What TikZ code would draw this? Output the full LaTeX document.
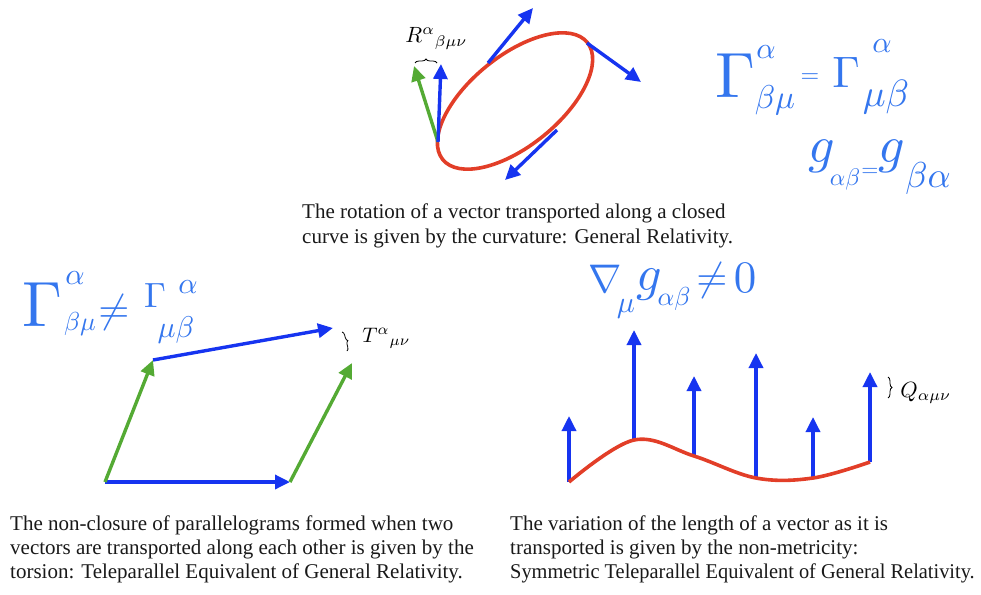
\documentclass[tikz,border=0pt]{standalone}
\usepackage{fontspec}
\setmainfont{Liberation Serif}
\usetikzlibrary{arrows.meta,decorations.pathreplacing}
\definecolor{vblue}{RGB}{22,52,240}
\definecolor{vgreen}{RGB}{84,170,52}
\definecolor{vred}{RGB}{226,62,40}
\definecolor{hand}{RGB}{52,118,238}
\definecolor{captext}{RGB}{25,25,25}
\tikzset{
  vec/.style={line width=3.4pt,-{Triangle[length=15pt,width=14pt]}},
  bvec/.style={vec,draw=vblue,fill=vblue},
  gvec/.style={vec,draw=vgreen,fill=vgreen},
  hw/.style={text=hand,inner sep=0pt,outer sep=0pt},
  capline/.style={anchor=base west,inner sep=0pt,text=captext,font=\fontsize{21}{24}\selectfont},
  mlabel/.style={anchor=base west,inner sep=0pt,scale=2.1},
  brc/.style={decorate,decoration={brace,amplitude=4pt},line width=0.8pt},
  redline/.style={draw=vred,line width=3.6pt}
}
\begin{document}
\begin{tikzpicture}[x=1pt,y=-1pt]
\path[use as bounding box] (0,0) rectangle (981,594);

% ---------- curvature ----------
\draw[redline,rotate around={39:(515,101)}] (515,101) ellipse [x radius=93,y radius=45];
\coordinate (eL) at (438,142);
\coordinate (gT) at (414,66);
\coordinate (bT) at (441,64);
\coordinate (eTop) at (488,63);
\coordinate (eTopT) at (533,8);
\coordinate (eR) at (587,43);
\coordinate (eRT) at (641,82);
\coordinate (eB) at (557,130);
\coordinate (eBT) at (505,180);
\draw[gvec] (eL) -- (gT);
\draw[bvec] (eL) -- (bT);
\draw[bvec] (eTop) -- (eTopT);
\draw[bvec] (eR) -- (eRT);
\draw[bvec] (eB) -- (eBT);
\coordinate (rb1) at (415,63);
\coordinate (rb2) at (437,63);
\draw[brc] (rb1) -- (rb2);
\node[mlabel,scale=1.05] (R) at (405,43) {$R^{\alpha}{}_{\beta\mu\nu}$};

\node[capline] (c1a) at (302,218) {The rotation of a vector transported along a closed};
\node[capline] (c1b) at (302,243) {curve is given by the curvature: General Relativity.};

% handwritten, top right
\node[hw,scale=6.4] (h1) at (735,76) {$\Gamma$};
\node[hw,scale=3] (h2) at (766,52) {$\alpha$};
\node[hw,scale=3.3] (h3) at (775,100) {$\beta\mu$};
\node[hw,scale=2.4] (h4) at (810,78) {$=$};
\node[hw,scale=4.4] (h5) at (846,72) {$\Gamma$};
\node[hw,scale=3] (h6) at (882,46) {$\alpha$};
\node[hw,scale=3.8] (h7) at (886,97) {$\mu\beta$};
\node[hw,scale=5.2] (h8) at (822,156) {$g$};
\node[hw,scale=2.4] (h9) at (845,179) {$\alpha\beta$};
\node[hw,scale=2.2] (h10) at (870,172) {$=$};
\node[hw,scale=5.2] (h11) at (892,156) {$g$};
\node[hw,scale=3.6] (h12) at (928,178) {$\beta\alpha$};

% ---------- torsion ----------
\coordinate (pA) at (105,482);
\coordinate (pB) at (290,482);
\coordinate (pC) at (153,360);
\coordinate (pD) at (333,328);
\coordinate (pE) at (352,363);
\draw[bvec] (pA) -- (pB);
\draw[gvec] (pA) -- (pC);
\draw[bvec] (pC) -- (pD);
\draw[gvec] (pB) -- (pE);
\coordinate (tb1) at (342,332);
\coordinate (tb2) at (347,351);
\draw[brc,decoration={amplitude=3.5pt}] (tb1) -- (tb2);
\node[mlabel] (T) at (362,342) {$T^{\alpha}{}_{\mu\nu}$};

\node[hw,scale=6.4] (l1) at (42,305) {$\Gamma$};
\node[hw,scale=3] (l2) at (75,278) {$\alpha$};
\node[hw,scale=2.6] (l3) at (80,324) {$\beta\mu$};
\node[hw,scale=4] (l4) at (114,312) {$\neq$};
\node[hw,scale=3.5] (l5) at (155,296) {$\Gamma$};
\node[hw,scale=3] (l6) at (188,287) {$\alpha$};
\node[hw,scale=3] (l7) at (176,330) {$\mu\beta$};

\node[capline] (c2a) at (10,530) {The non-closure of parallelograms formed when two};
\node[capline] (c2b) at (10,554) {vectors are transported along each other is given by the};
\node[capline] (c2c) at (10,578) {torsion: Teleparallel Equivalent of General Relativity.};

% ---------- non-metricity ----------
\coordinate (q1) at (569,482);
\coordinate (q2) at (634,440);
\coordinate (q3) at (694,456);
\coordinate (q4) at (756,478);
\coordinate (q5) at (813,478);
\coordinate (q6) at (870,462);
\coordinate (q1t) at (569,416);
\coordinate (q2t) at (634,330);
\coordinate (q3t) at (694,376);
\coordinate (q4t) at (756,353);
\coordinate (q5t) at (813,417);
\coordinate (q6t) at (870,372);
\foreach \i in {1,...,6} \draw[bvec] (q\i) -- (q\i t);
\draw[redline] plot[smooth,tension=0.6] coordinates {(569,482) (634,440) (694,456) (756,478) (813,478) (870,462)};
\coordinate (qb1) at (888,377);
\coordinate (qb2) at (888,398);
\draw[brc,decoration={amplitude=4pt}] (qb1) -- (qb2);
\node[mlabel,scale=1.05] (Q) at (900,397) {$Q_{\alpha\mu\nu}$};

\node[hw,scale=4] (n1) at (605,279) {$\nabla$};
\node[hw,scale=3] (n2) at (626,309) {$\mu$};
\node[hw,scale=5] (n3) at (649,285) {$g$};
\node[hw,scale=2.6] (n4) at (674,299) {$\alpha\beta$};
\node[hw,scale=4] (n5) at (712,280) {$\neq$};
\node[hw,scale=4.5] (n6) at (745,278) {$0$};

\node[capline] (c3a) at (510,530) {The variation of the length of a vector as it is};
\node[capline] (c3b) at (510,554) {transported is given by the non-metricity:};
\node[capline,xscale=0.97] (c3c) at (510,578) {Symmetric Teleparallel Equivalent of General Relativity.};
\end{tikzpicture}
\end{document}
